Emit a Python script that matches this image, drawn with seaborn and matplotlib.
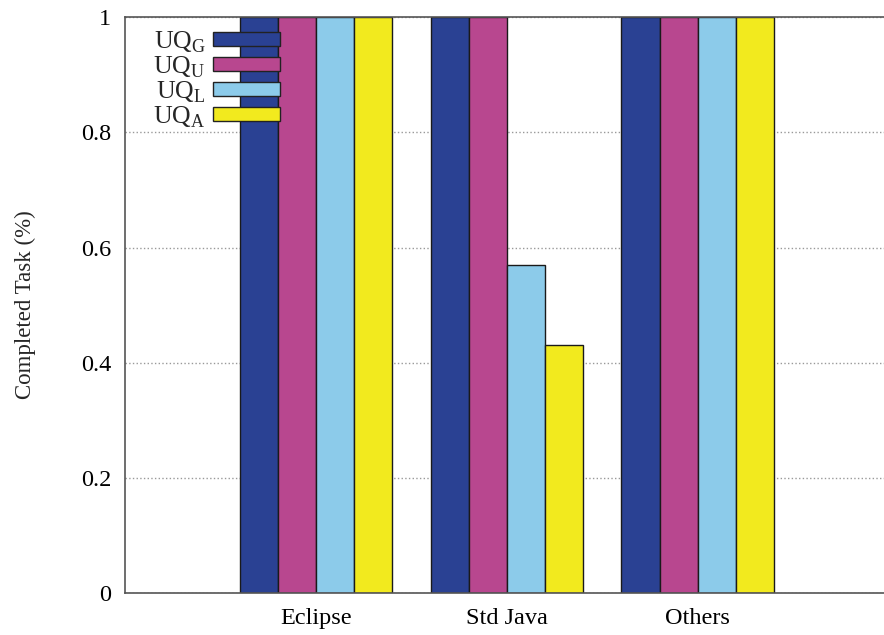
import seaborn as sns
import matplotlib.pyplot as plt
import pandas as pd
from matplotlib.patches import Patch

# dados
categories = ['Eclipse', 'Std Java', 'Others']
series = ['UQ_G', 'UQ_U', 'UQ_L', 'UQ_A']
uq_g = [1.0, 1.0, 1.0]
uq_u = [1.0, 1.0, 1.0]
uq_l = [1.0, 0.57, 1.0]
uq_a = [1.0, 0.43, 1.0]
legend_labels = [r'UQ$_\mathregular{G}$', r'UQ$_\mathregular{U}$',
                 r'UQ$_\mathregular{L}$', r'UQ$_\mathregular{A}$']
colors = ['#2a4193', '#b8478f', '#8ccbea', '#f2ea1e']

rows = []
for s, vals in zip(series, [uq_g, uq_u, uq_l, uq_a]):
    for c, v in zip(categories, vals):
        rows.append({'cat': c, 'series': s, 'val': v})
df = pd.DataFrame(rows)

sns.set_style("white")
plt.rcParams['font.family'] = ['Liberation Serif', 'DejaVu Serif']
plt.rcParams['mathtext.fontset'] = 'custom'
plt.rcParams['mathtext.rm'] = 'Liberation Serif'

fig = plt.figure(figsize=(8.84, 6.35), dpi=100)
ax = fig.add_axes([0.1414, 0.066, 0.864, 0.907])

sns.barplot(data=df, x='cat', y='val', hue='series', palette=colors,
            width=0.8, edgecolor='#1a1a1a', linewidth=1.0, saturation=1,
            ax=ax, legend=False)

ax.set_xlim(-1, 3)
ax.set_ylim(0, 1)
ax.set_yticks([0, 0.2, 0.4, 0.6, 0.8, 1.0])
ax.set_yticklabels(['0', '0.2', '0.4', '0.6', '0.8', '1'])
ax.set_xlabel('')
ax.set_ylabel('Completed Task (%)', fontsize=16.5, labelpad=32)
ax.tick_params(axis='both', labelsize=17.5, direction='in', length=6, width=1,
               colors='#333333', labelcolor='black')
ax.tick_params(axis='y', pad=10)
ax.tick_params(axis='x', length=0, pad=11)
ax.set_axisbelow(True)
ax.yaxis.grid(True, linestyle=':', color='#999999', linewidth=1)
for sp in ax.spines.values():
    sp.set_visible(True)
    sp.set_color('#555555')
    sp.set_linewidth(1.2)

handles = [Patch(facecolor=c, edgecolor='#222222', linewidth=1.0) for c in colors]
leg = ax.legend(handles, legend_labels, loc='upper right', bbox_to_anchor=(0.2165, 0.997),
                frameon=False, markerfirst=False, fontsize=18.5, handlelength=2.6,
                handleheight=0.45, labelspacing=-0.02, handletextpad=0.3,
                borderaxespad=0)
leg.set_zorder(10)

fig.savefig('out.png', dpi=100)
